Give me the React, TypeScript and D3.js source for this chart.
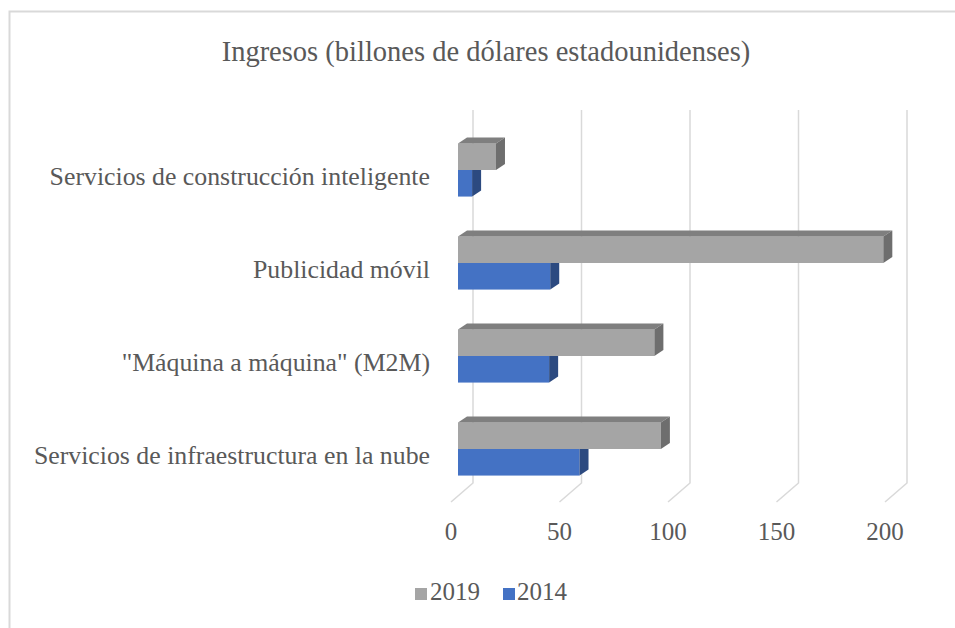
import React from "react";
import * as d3 from "d3";

const categories = [
  "Servicios de construcción inteligente",
  "Publicidad móvil",
  '"Máquina a máquina" (M2M)',
  "Servicios de infraestructura en la nube",
];
const series = ["2019", "2014"];
const values2019 = [17.5, 196, 90.5, 93.5];
const values2014 = [6.5, 42.5, 42, 56];
const ticks = [0, 50, 100, 150, 200];
const title = "Ingresos (billones de dólares estadounidenses)";

const colors: Record<string, { front: string; top: string; side: string }> = {
  "2019": { front: "#a5a5a5", top: "#7f7f7f", side: "#6e6e6e" },
  "2014": { front: "#4472c4", top: "#2f528f", side: "#2c4a80" },
};

const FONT = "Liberation Serif";
const TEXT = "#595959";
const ts = (size: number) => ({ fontFamily: FONT, fontSize: size + "px" });

export default function App() {
  const x = d3.scaleLinear().domain([0, 200]).range([458, 892]);
  const y = d3.scaleBand<string>().domain(categories).range([123.5, 495.5]).paddingInner(0).paddingOuter(0);
  const sub = d3.scaleBand<string>().domain(series).range([0, y.bandwidth()]).paddingInner(0).paddingOuter(0.75);

  const depthX = 9;
  const depthY = -6;
  const backOff = 15;
  const frontOff = -7;
  const gridTop = 110;
  const gridBottom = 483;
  const floorFront = 502;

  const dataBySeries: Record<string, number[]> = { "2019": values2019, "2014": values2014 };
  const drawOrder = ["2014", "2019"];

  const bars: React.ReactNode[] = [];
  categories.forEach((cat, i) => {
    drawOrder.forEach((s) => {
      const v = dataBySeries[s][i];
      const y0 = (y(cat) as number) + (sub(s) as number);
      const y1 = y0 + sub.bandwidth();
      const x0 = x(0);
      const xv = x(v);
      const c = colors[s];
      bars.push(
        <g key={`${cat}-${s}`}>
          <rect x={x0} y={y0} width={xv - x0} height={y1 - y0} fill={c.front} />
          <polygon
            points={`${x0},${y0} ${x0 + depthX},${y0 + depthY} ${xv + depthX},${y0 + depthY} ${xv},${y0}`}
            fill={c.top}
          />
          <polygon
            points={`${xv},${y0} ${xv + depthX},${y0 + depthY} ${xv + depthX},${y1 + depthY} ${xv},${y1}`}
            fill={c.side}
          />
        </g>
      );
    });
  });

  return (
    <svg width={955} height={628} style={{ position: "absolute", left: 0, top: 0, background: "#fff" }}>
      <rect x={0} y={0} width={955} height={628} fill="#fff" />
      <rect x={9.5} y={11.5} width={1000} height={1000} fill="none" stroke="#d9d9d9" strokeWidth={2} />
      <text x={486} y={61} textAnchor="middle" style={ts(28.5)} fill={TEXT}>
        {title}
      </text>
      {ticks.map((t) => (
        <polyline
          key={`g${t}`}
          points={`${x(t) + backOff},${gridTop} ${x(t) + backOff},${gridBottom} ${x(t) + frontOff},${floorFront}`}
          fill="none"
          stroke="#d9d9d9"
          strokeWidth={1.5}
        />
      ))}
      {bars}
      {categories.map((cat) => (
        <text
          key={`l${cat}`}
          x={430}
          y={(y(cat) as number) + y.bandwidth() / 2 + 15}
          textAnchor="end"
          style={ts(25.8)}
          fill={TEXT}
        >
          {cat}
        </text>
      ))}
      {ticks.map((t) => (
        <text key={`t${t}`} x={x(t) + frontOff} y={540} textAnchor="middle" style={ts(25)} fill={TEXT}>
          {t}
        </text>
      ))}
      <g>
        <rect x={415} y={588} width={12} height={12} fill={colors["2019"].front} />
        <text x={430} y={600} style={ts(25)} fill={TEXT}>
          2019
        </text>
        <rect x={503} y={588} width={12} height={12} fill={colors["2014"].front} />
        <text x={517} y={600} style={ts(25)} fill={TEXT}>
          2014
        </text>
      </g>
    </svg>
  );
}
